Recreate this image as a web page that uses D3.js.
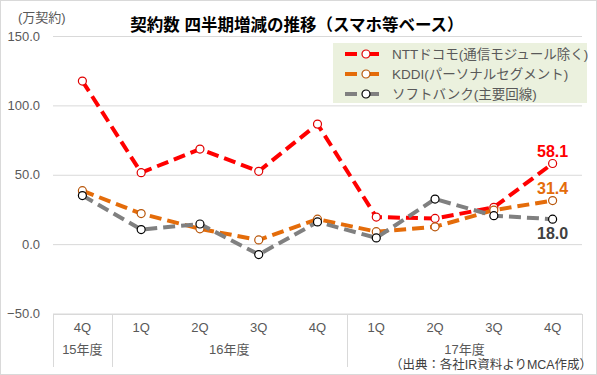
<!DOCTYPE html>
<html>
<head>
<meta charset="utf-8">
<script src="https://cdn.jsdelivr.net/npm/d3@7"></script>
<style>
    body { margin: 0; background: #fff; }
    #chart-area { width: 597px; height: 375px; }
    text { font-family: "Liberation Sans", Arial, "Noto Sans CJK JP", sans-serif; }
    .axis text { fill: #595959; font-size: 13px; }
    .grid line { stroke: #D9D9D9; }
</style>
</head>
<body>
<div id="chart-area"></div>
<script>

// chart data
const quarters = ["4Q", "1Q", "2Q", "3Q", "4Q", "1Q", "2Q", "3Q", "4Q"];
const fiscalYears = ["15年度", "16年度", "16年度", "16年度", "16年度", "17年度", "17年度", "17年度", "17年度"];
const seriesNames = ["NTTドコモ(通信モジュール除く)", "KDDI(パーソナルセグメント)", "ソフトバンク(主要回線)"];
const docomo = [117.5, 51.5, 68.5, 52.5, 86.5, 19.5, 18.5, 26.5, 58.1];
const kddi = [38.5, 22.0, 11.0, 3.0, 18.0, 9.0, 12.5, 24.5, 31.4];
const softbank = [35.0, 10.5, 14.5, -7.5, 16.0, 4.5, 32.5, 20.5, 18.0];
const yTicks = [-50, 0, 50, 100, 150];

const series = [
    {name: seriesNames[0], values: docomo, line: "#FF0000", marker: "#E00000", label: "#FF0000"},
    {name: seriesNames[1], values: kddi, line: "#E46C0A", marker: "#B8560A", label: "#E46C0A"},
    {name: seriesNames[2], values: softbank, line: "#808080", marker: "#000000", label: "#404040"}
];

let margin = {top: 36, right: 15, bottom: 61, left: 53};
let width = 597 - margin.left - margin.right;
let height = 375 - margin.top - margin.bottom;

let svg = d3.select("#chart-area").append("svg")
    .attr("width", 597)
    .attr("height", 375);

// outer border
svg.append("rect")
    .attr("x", 0.5).attr("y", 0.5)
    .attr("width", 596).attr("height", 374)
    .attr("fill", "#fff")
    .attr("stroke", "#D9D9D9");

let g = svg.append("g")
    .attr("transform", "translate(" + margin.left + "," + margin.top + ")");

// scales
let x = d3.scaleBand()
    .domain(d3.range(quarters.length))
    .range([0, width]);
let y = d3.scaleLinear()
    .domain([-50, 150])
    .range([height - 0.5, 0]);
let cx = i => x(i) + x.bandwidth() / 2;

// gridlines
g.append("g")
    .attr("class", "grid")
    .call(d3.axisLeft(y).tickValues(yTicks).tickSize(-width).tickFormat(""))
    .call(a => a.select(".domain").remove());

// y axis labels
g.append("g")
    .attr("class", "axis y-axis")
    .call(d3.axisLeft(y).tickValues(yTicks).tickSize(0).tickPadding(13).tickFormat(d3.format(".1f")))
    .call(a => a.select(".domain").remove());

// category axis: quarters
let xAxis = g.append("g")
    .attr("class", "axis x-axis")
    .attr("transform", "translate(0," + height + ")")
    .call(d3.axisBottom(x).tickSize(0).tickPadding(9).tickFormat(i => quarters[i]));
xAxis.select(".domain").attr("stroke", "#D9D9D9");

// category axis: fiscal year groups
let groups = [];
fiscalYears.forEach((fy, i) => {
    let last = groups[groups.length - 1];
    if (last && last.name === fy) last.end = i;
    else groups.push({name: fy, start: i, end: i});
});

let bounds = groups.map(d => x(d.start)).concat([width]);
g.selectAll(".sep")
    .data(bounds)
    .enter().append("line")
    .attr("class", "sep")
    .attr("x1", d => Math.round(d) + 0.5).attr("x2", d => Math.round(d) + 0.5)
    .attr("y1", height).attr("y2", height + 53)
    .attr("stroke", "#D9D9D9");

g.selectAll(".year-label")
    .data(groups)
    .enter().append("text")
    .attr("class", "year-label")
    .attr("x", d => (x(d.start) + x(d.end) + x.bandwidth()) / 2)
    .attr("y", height + 40)
    .attr("text-anchor", "middle")
    .attr("fill", "#595959")
    .style("font-size", "13px")
    .text(d => d.name);

// lines + markers
let line = d3.line()
    .x((d, i) => cx(i))
    .y(d => y(d));

let seriesGroup = g.selectAll(".series")
    .data(series)
    .enter().append("g")
    .attr("class", "series");

seriesGroup.append("path")
    .attr("d", d => line(d.values))
    .attr("fill", "none")
    .attr("stroke", d => d.line)
    .attr("stroke-width", 4)
    .attr("stroke-dasharray", "12,6");

seriesGroup.selectAll("circle")
    .data(d => d.values.map(v => ({v: v, s: d})))
    .enter().append("circle")
    .attr("cx", (d, i) => cx(i))
    .attr("cy", d => y(d.v))
    .attr("r", 4)
    .attr("fill", "#fff")
    .attr("stroke", d => d.s.marker)
    .attr("stroke-width", 1.2);

// data labels on last point
let lastIdx = quarters.length - 1;
let labelOffset = [-7, -7, 20];
seriesGroup.append("text")
    .attr("x", cx(lastIdx))
    .attr("y", (d, i) => y(d.values[lastIdx]) + labelOffset[i])
    .attr("text-anchor", "middle")
    .attr("fill", d => d.label)
    .style("font-size", "16px")
    .style("font-weight", "bold")
    .text(d => d3.format(".1f")(d.values[lastIdx]));

// legend
let legend = svg.append("g")
    .attr("transform", "translate(333,43)");
legend.append("rect")
    .attr("width", 254).attr("height", 60)
    .attr("fill", "#EBF1DE");

let items = legend.selectAll(".item")
    .data(series)
    .enter().append("g")
    .attr("class", "item")
    .attr("transform", (d, i) => "translate(0," + (11 + i * 20) + ")");
items.append("line")
    .attr("x1", 12).attr("x2", 56)
    .attr("stroke", d => d.line)
    .attr("stroke-width", 4)
    .attr("stroke-dasharray", "12,10");
items.append("circle")
    .attr("cx", 33).attr("r", 4)
    .attr("fill", "#fff")
    .attr("stroke", d => d.marker)
    .attr("stroke-width", 1.2);
items.append("text")
    .attr("x", 59).attr("dy", "0.35em")
    .attr("fill", "#595959")
    .style("font-size", "13.5px")
    .text(d => d.name);

// title, unit and source
svg.append("text")
    .attr("x", 297).attr("y", 31)
    .attr("text-anchor", "middle")
    .style("font-size", "16.5px")
    .style("font-weight", "bold")
    .attr("fill", "#000")
    .text("契約数 四半期増減の推移（スマホ等ベース）");

svg.append("text")
    .attr("x", 18).attr("y", 22)
    .attr("fill", "#595959")
    .style("font-size", "13px")
    .text("(万契約)");

svg.append("text")
    .attr("x", 592).attr("y", 369)
    .attr("text-anchor", "end")
    .attr("fill", "#404040")
    .style("font-size", "12.5px")
    .attr("textLength", 202)
    .attr("lengthAdjust", "spacingAndGlyphs")
    .text("（出典：各社IR資料よりMCA作成）");

</script>
</body>
</html>
